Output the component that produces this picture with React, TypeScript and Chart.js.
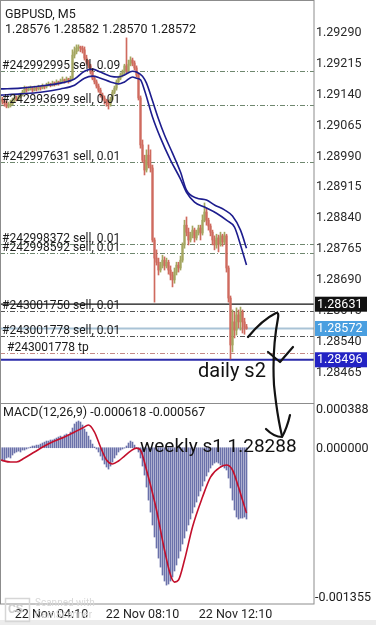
import React, { useEffect, useRef } from "react";
import { Chart, registerables } from "chart.js";
Chart.register(...registerables);

const SYMBOL_TITLE = "GBPUSD, M5";
const OHLC_TITLE = "1.28576 1.28582 1.28570 1.28572";
const MACD_TITLE = "MACD(12,26,9) -0.000618 -0.000567";

// [open, high, low, close] per M5 bar
const CANDLES: number[][] = [
  [1.29122,1.29137,1.29112,1.29129],[1.29129,1.29134,1.29117,1.29125],[1.29125,1.29129,1.29112,1.29120],
  [1.29120,1.29125,1.29108,1.29112],[1.29112,1.29122,1.29108,1.29115],[1.29115,1.29127,1.29110,1.29117],
  [1.29117,1.29132,1.29115,1.29127],[1.29127,1.29137,1.29122,1.29132],[1.29132,1.29137,1.29125,1.29129],
  [1.29129,1.29139,1.29127,1.29134],[1.29134,1.29144,1.29132,1.29139],[1.29139,1.29151,1.29137,1.29146],
  [1.29146,1.29161,1.29144,1.29154],[1.29154,1.29159,1.29146,1.29151],[1.29151,1.29159,1.29149,1.29154],
  [1.29154,1.29161,1.29151,1.29156],[1.29156,1.29159,1.29146,1.29151],[1.29151,1.29161,1.29149,1.29156],
  [1.29156,1.29159,1.29149,1.29154],[1.29154,1.29163,1.29151,1.29159],[1.29159,1.29161,1.29151,1.29156],
  [1.29156,1.29166,1.29154,1.29161],[1.29161,1.29163,1.29154,1.29159],[1.29159,1.29168,1.29156,1.29163],
  [1.29163,1.29171,1.29161,1.29166],[1.29166,1.29168,1.29159,1.29163],[1.29163,1.29173,1.29161,1.29168],
  [1.29168,1.29171,1.29161,1.29166],[1.29166,1.29176,1.29163,1.29171],[1.29171,1.29173,1.29163,1.29168],
  [1.29168,1.29178,1.29166,1.29173],[1.29173,1.29183,1.29171,1.29176],[1.29176,1.29178,1.29168,1.29173],
  [1.29173,1.29183,1.29171,1.29178],[1.29178,1.29180,1.29168,1.29176],[1.29176,1.29185,1.29171,1.29180],
  [1.29180,1.29249,1.29178,1.29236],[1.29236,1.29256,1.29229,1.29244],[1.29244,1.29261,1.29239,1.29253],
  [1.29253,1.29261,1.29246,1.29256],[1.29256,1.29258,1.29244,1.29253],[1.29253,1.29258,1.29241,1.29249],
  [1.29249,1.29256,1.29224,1.29229],[1.29229,1.29236,1.29214,1.29219],[1.29219,1.29224,1.29205,1.29210],
  [1.29210,1.29214,1.29190,1.29195],[1.29195,1.29200,1.29176,1.29180],[1.29180,1.29185,1.29166,1.29171],
  [1.29171,1.29176,1.29156,1.29161],[1.29161,1.29166,1.29146,1.29151],[1.29151,1.29156,1.29134,1.29139],
  [1.29139,1.29144,1.29127,1.29132],[1.29132,1.29137,1.29117,1.29125],[1.29125,1.29129,1.29112,1.29120],
  [1.29120,1.29127,1.29105,1.29117],[1.29117,1.29134,1.29112,1.29129],[1.29129,1.29151,1.29127,1.29146],
  [1.29146,1.29161,1.29142,1.29156],[1.29156,1.29176,1.29151,1.29171],[1.29171,1.29185,1.29166,1.29180],
  [1.29180,1.29193,1.29176,1.29188],[1.29188,1.29200,1.29183,1.29195],[1.29195,1.29214,1.29190,1.29210],
  [1.29210,1.29278,1.29193,1.29197],[1.29197,1.29224,1.29193,1.29214],[1.29214,1.29232,1.29210,1.29224],
  [1.29224,1.29229,1.29210,1.29217],[1.29217,1.29222,1.29200,1.29205],[1.29205,1.29210,1.29183,1.29188],
  [1.29188,1.29193,1.29127,1.29132],[1.29132,1.29137,1.29010,1.29018],[1.29018,1.29030,1.28976,1.28981],
  [1.28981,1.28993,1.28945,1.28957],[1.28957,1.29006,1.28952,1.28993],[1.28993,1.29018,1.28962,1.28969],
  [1.28969,1.29006,1.28952,1.28962],[1.28962,1.28969,1.28782,1.28787],[1.28787,1.28792,1.28636,1.28743],
  [1.28743,1.28763,1.28726,1.28733],[1.28733,1.28743,1.28702,1.28714],[1.28714,1.28733,1.28709,1.28726],
  [1.28726,1.28750,1.28719,1.28738],[1.28738,1.28746,1.28714,1.28724],[1.28724,1.28743,1.28719,1.28733],
  [1.28733,1.28738,1.28704,1.28714],[1.28714,1.28724,1.28690,1.28702],[1.28702,1.28709,1.28673,1.28690],
  [1.28690,1.28719,1.28682,1.28709],[1.28709,1.28733,1.28702,1.28726],[1.28726,1.28733,1.28709,1.28719],
  [1.28719,1.28748,1.28714,1.28738],[1.28738,1.28780,1.28733,1.28775],[1.28775,1.28835,1.28767,1.28823],
  [1.28823,1.28843,1.28797,1.28806],[1.28806,1.28816,1.28775,1.28787],[1.28787,1.28806,1.28782,1.28799],
  [1.28799,1.28821,1.28792,1.28811],[1.28811,1.28816,1.28782,1.28792],[1.28792,1.28811,1.28787,1.28806],
  [1.28806,1.28823,1.28799,1.28816],[1.28816,1.28823,1.28787,1.28804],[1.28804,1.28848,1.28799,1.28835],
  [1.28835,1.28877,1.28831,1.28855],[1.28855,1.28865,1.28823,1.28835],[1.28835,1.28840,1.28811,1.28821],
  [1.28821,1.28826,1.28797,1.28806],[1.28806,1.28811,1.28775,1.28787],[1.28787,1.28797,1.28763,1.28775],
  [1.28775,1.28801,1.28767,1.28792],[1.28792,1.28799,1.28758,1.28777],[1.28777,1.28806,1.28772,1.28797],
  [1.28797,1.28801,1.28772,1.28782],[1.28782,1.28806,1.28777,1.28797],[1.28797,1.28801,1.28709,1.28719],
  [1.28719,1.28724,1.28636,1.28646],[1.28646,1.28651,1.28498,1.28532],[1.28532,1.28617,1.28515,1.28588],
  [1.28588,1.28612,1.28549,1.28568],[1.28568,1.28622,1.28556,1.28605],[1.28605,1.28617,1.28573,1.28588],
  [1.28588,1.28624,1.28568,1.28612],[1.28612,1.28617,1.28561,1.28588],[1.28588,1.28597,1.28558,1.28575],
  [1.28576,1.28582,1.28570,1.28572],
];

// [bar index, value]
const MA_UPPER: number[][] = [
  [0,1.29154],[10,1.29156],[20,1.29161],[30,1.29168],[37,1.29178],[42,1.29197],[46,1.29202],
  [50,1.29195],[55,1.29185],[59,1.29183],[62,1.29188],[66,1.29197],[68,1.29195],[71,1.29185],
  [73,1.29168],[76,1.29125],[79,1.29081],[82,1.29042],[86,1.28998],[90,1.28952],[93,1.28908],
  [98,1.28889],[103,1.28884],[107,1.28872],[112,1.28860],[116,1.28845],[120,1.28811],[123,1.28767],
];
const MA_LOWER: number[][] = [
  [0,1.29139],[10,1.29142],[20,1.29146],[30,1.29154],[37,1.29163],[42,1.29180],[46,1.29185],
  [50,1.29180],[55,1.29171],[59,1.29166],[62,1.29171],[66,1.29183],[68,1.29180],[70,1.29176],
  [72,1.29151],[76,1.29086],[80,1.29035],[85,1.28981],[90,1.28935],[93,1.28903],[97,1.28879],
  [102,1.28867],[108,1.28852],[113,1.28835],[117,1.28818],[120,1.28775],[123,1.28726],
];

const PRICE_TICKS = [1.2929, 1.29215, 1.2914, 1.29065, 1.2899, 1.28915, 1.2884, 1.28765, 1.2869, 1.28615, 1.2854, 1.28465];

const ORDER_LABELS = [
  "#242992995 sell, 0.09", "#242993699 sell, 0.01", "#242997631 sell, 0.01", "#242998372 sell, 0.01",
  "#242998592 sell, 0.01", "#243001750 sell, 0.01", "#243001778 sell, 0.01", "#243001778 tp",
];
const ORDER_PRICES = [1.29197, 1.29115, 1.28976, 1.28777, 1.28755, 1.28614, 1.28554, 1.28512];

const LEVEL_LABELS = ["1.28631", "1.28572", "1.28496"];
const LEVEL_PRICES = [1.28631, 1.28572, 1.28496];

const MACD_HIST = [
  -0.000107,-0.000115,-0.000107,-0.000089,-0.000081,-0.000089,-0.000063,-0.000046,
  -0.000037,-0.000029,-0.000037,-0.000020,-0.000020,-0.000011,-0.000003,
  0.000006,0.000015,0.000015,0.000023,0.000023,0.000032,0.000041,
  0.000049,0.000058,0.000058,0.000067,0.000067,0.000075,0.000084,0.000093,
  0.000101,0.000093,0.000110,0.000119,0.000110,0.000136,0.000171,0.000206,
  0.000223,0.000232,0.000223,0.000197,0.000162,
  0.000136,0.000101,0.000067,0.000032,0.000006,-0.000011,
  -0.000037,-0.000072,-0.000107,-0.000141,-0.000167,-0.000185,-0.000159,
  -0.000124,-0.000089,-0.000063,-0.000037,-0.000020,-0.000011,-0.000003,
  0.000015,0.000041,0.000058,0.000049,0.000023,-0.000003,
  -0.000037,-0.000089,-0.000159,-0.000237,-0.000341,-0.000454,
  -0.000558,-0.000670,-0.000774,-0.000870,-0.000957,-0.001035,
  -0.001104,-0.001156,-0.001191,-0.001182,-0.001156,-0.001121,
  -0.001069,-0.001017,-0.000957,-0.000896,-0.000835,-0.000783,
  -0.000722,-0.000670,-0.000618,-0.000566,-0.000514,-0.000471,
  -0.000419,-0.000375,-0.000332,-0.000289,-0.000245,-0.000211,
  -0.000176,-0.000150,-0.000133,-0.000124,-0.000133,-0.000150,
  -0.000159,-0.000176,-0.000193,-0.000263,-0.000349,-0.000454,
  -0.000540,-0.000601,-0.000618,-0.000610,-0.000610,-0.000601,-0.000618,
];

const MACD_SIGNAL: number[][] = [
  [0,-0.000107],[5,-0.000124],[8,-0.000124],[12,-0.000089],[17,-0.000037],[22,0.000015],
  [27,0.000058],[32,0.000093],[37,0.000136],[41,0.000171],[44,0.000197],[47,0.000136],
  [50,0.000006],[53,-0.000107],[56,-0.000141],[59,-0.000115],[62,-0.000072],[65,-0.000029],
  [68,-0.000003],[70,-0.000020],[73,-0.000193],[78,-0.000540],[82,-0.000887],[85,-0.001104],
  [87,-0.001165],[89,-0.001147],[92,-0.000974],[96,-0.000687],[101,-0.000428],[105,-0.000254],
  [110,-0.000167],[113,-0.000150],[116,-0.000193],[119,-0.000341],[121,-0.000454],[123,-0.000567],
];
const MACD_TICK_LABELS = ["0.000388", "0.000000", "-0.001355"];
const MACD_TICKS = [0.000388, 0, -0.001355];

const TIME_TICK_POS = [25.5, 71, 117.5];
const TIME_LABELS = ["22 Nov 04:10", "22 Nov 08:10", "22 Nov 12:10"];

const NOTES = ["daily s2", "weekly s1 1.28288"];

const FONT = "Roboto, 'Noto Sans', sans-serif";
const BULL = "#a3a660";
const BEAR = "#cf6a5e";
const FRAME = "#8c8c8c";
const X_MIN = -0.25;
const X_MAX = 156.75;

function drawInk(ctx: CanvasRenderingContext2D, offY: number) {
  ctx.save();
  ctx.translate(0, -offY);
  ctx.strokeStyle = "#121212";
  ctx.lineWidth = 2.2;
  ctx.lineCap = "round";
  ctx.lineJoin = "round";
  ctx.beginPath();
  ctx.moveTo(248, 337);
  ctx.quadraticCurveTo(262, 320, 276, 313);
  ctx.quadraticCurveTo(279, 312, 278, 318);
  ctx.quadraticCurveTo(272, 350, 274, 385);
  ctx.quadraticCurveTo(277, 415, 282, 436);
  ctx.stroke();
  ctx.beginPath();
  ctx.moveTo(268, 352);
  ctx.lineTo(280, 362);
  ctx.lineTo(293, 347);
  ctx.stroke();
  ctx.beginPath();
  ctx.moveTo(266, 429);
  ctx.quadraticCurveTo(274, 437, 282, 437);
  ctx.quadraticCurveTo(287, 428, 290, 415);
  ctx.stroke();
  ctx.fillStyle = "#111";
  ctx.font = `20px ${FONT}`;
  ctx.textBaseline = "alphabetic";
  ctx.textAlign = "left";
  ctx.fillText(NOTES[0], 198, 377);
  ctx.font = `19px ${FONT}`;
  ctx.fillText(NOTES[1], 140, 452);
  ctx.restore();
}

export default function App() {
  const priceRef = useRef<HTMLCanvasElement>(null);
  const macdRef = useRef<HTMLCanvasElement>(null);

  useEffect(() => {
    const candleColor = (ctx: any) => {
      const c = CANDLES[ctx.dataIndex];
      return c && c[3] >= c[0] ? BULL : BEAR;
    };

    const pricePlugin = {
      id: "pricePlugin",
      beforeDatasetsDraw(chart: any) {
        const { ctx, chartArea: a, scales } = chart;
        const y = scales.y;
        ctx.save();
        ORDER_PRICES.forEach((p, i) => {
          const py = Math.round(y.getPixelForValue(p)) + 0.5;
          ctx.strokeStyle = i === ORDER_PRICES.length - 1 ? "#c48a86" : i >= 5 ? "#555" : "#6f876f";
          ctx.lineWidth = 1;
          ctx.setLineDash([5, 2, 1, 2]);
          ctx.beginPath();
          ctx.moveTo(a.left, py);
          ctx.lineTo(a.right, py);
          ctx.stroke();
        });
        ctx.setLineDash([]);
        const lc = ["#111", "#a9c3d6", "#2b2baa"];
        const lw = [1.3, 1.8, 2];
        LEVEL_PRICES.forEach((p, i) => {
          const py = y.getPixelForValue(p);
          ctx.strokeStyle = lc[i];
          ctx.lineWidth = lw[i];
          ctx.beginPath();
          ctx.moveTo(a.left, py);
          ctx.lineTo(a.right, py);
          ctx.stroke();
        });
        ctx.restore();
      },
      afterDraw(chart: any) {
        const { ctx, chartArea: a, scales } = chart;
        const y = scales.y;
        ctx.save();
        ctx.strokeStyle = FRAME;
        ctx.lineWidth = 1;
        ctx.strokeRect(0.5, 0.5, a.right - 0.5, a.bottom);
        ctx.fillStyle = "#1a1a1a";
        ctx.font = `12.5px ${FONT}`;
        ctx.textAlign = "left";
        ctx.textBaseline = "alphabetic";
        ctx.fillText(SYMBOL_TITLE, 5, 17.5);
        ctx.fillText(OHLC_TITLE, 5, 33);
        ctx.font = `12px ${FONT}`;
        ORDER_LABELS.forEach((t, i) => {
          const py = y.getPixelForValue(ORDER_PRICES[i]);
          ctx.fillText(t, i === ORDER_LABELS.length - 1 ? 7 : 2, py - 2);
        });
        const bg = ["#111111", "#4a9fe0", "#2323c4"];
        ctx.font = `12.5px ${FONT}`;
        ctx.textBaseline = "middle";
        LEVEL_PRICES.forEach((p, i) => {
          const py = y.getPixelForValue(p);
          ctx.fillStyle = bg[i];
          ctx.fillRect(a.right + 1, py - 7.5, 52, 15);
          ctx.fillStyle = "#fff";
          ctx.fillText(LEVEL_LABELS[i], a.right + 3, py + 0.5);
        });
        ctx.restore();
        drawInk(ctx, 0);
      },
    };

    const price = new Chart(priceRef.current!, {
      type: "bar",
      data: {
        datasets: [
          {
            type: "line",
            data: MA_UPPER.map((p) => ({ x: p[0], y: p[1] })),
            borderColor: "#1d1d8e",
            borderWidth: 1.6,
            pointRadius: 0,
            cubicInterpolationMode: "monotone",
            order: 0,
          } as any,
          {
            type: "line",
            data: MA_LOWER.map((p) => ({ x: p[0], y: p[1] })),
            borderColor: "#1d1d8e",
            borderWidth: 1.6,
            pointRadius: 0,
            cubicInterpolationMode: "monotone",
            order: 0,
          } as any,
          {
            type: "bar",
            data: CANDLES.map((c, i) => ({ x: i, y: [c[0], c[3]] })),
            backgroundColor: candleColor,
            barThickness: 1.5,
            minBarLength: 1,
            grouped: false,
            order: 1,
          } as any,
          {
            type: "bar",
            data: CANDLES.map((c, i) => ({ x: i, y: [c[2], c[1]] })),
            backgroundColor: candleColor,
            barThickness: 1,
            grouped: false,
            order: 2,
          } as any,
        ],
      },
      options: {
        animation: false,
        responsive: false,
        maintainAspectRatio: false,
        layout: { padding: 0 },
        plugins: { legend: { display: false }, tooltip: { enabled: false } },
        scales: {
          x: { type: "linear", min: X_MIN, max: X_MAX, offset: false, bounds: "ticks", display: false, grid: { offset: false } },
          y: {
            position: "right",
            min: 1.28391,
            max: 1.2937,
            grid: { display: false, drawTicks: false },
            border: { display: false },
            afterBuildTicks: (s: any) => {
              s.ticks = PRICE_TICKS.map((v) => ({ value: v }));
            },
            afterFit: (s: any) => {
              s.width = 62;
              s.paddingTop = 0;
              s.paddingBottom = 0;
            },
            ticks: {
              padding: 2,
              color: "#2a2a2a",
              font: { family: FONT, size: 12.5 },
              callback: (v: any) => Number(v).toFixed(5),
            },
          },
        },
      } as any,
      plugins: [pricePlugin],
    });

    const macdPlugin = {
      id: "macdPlugin",
      beforeDraw(chart: any) {
        const { ctx, width, height } = chart;
        ctx.save();
        ctx.fillStyle = "#ececec";
        ctx.fillRect(0, height - 5, width, 5);
        ctx.restore();
      },
      afterDraw(chart: any) {
        const { ctx, chartArea: a, scales } = chart;
        const y = scales.y;
        ctx.save();
        ctx.strokeStyle = FRAME;
        ctx.lineWidth = 1;
        ctx.strokeRect(0.5, 0.5, a.right - 0.5, a.bottom - 0.5);
        ctx.fillStyle = "#1a1a1a";
        ctx.font = `12.5px ${FONT}`;
        ctx.textAlign = "left";
        ctx.textBaseline = "alphabetic";
        ctx.fillText(MACD_TITLE, 3, 13);
        ctx.textBaseline = "middle";
        MACD_TICKS.forEach((v, i) => {
          let py = y.getPixelForValue(v);
          if (i === 0) py += 7;
          else if (i === MACD_TICKS.length - 1) py -= 6;
          else py += 1;
          ctx.fillText(MACD_TICK_LABELS[i], i === MACD_TICKS.length - 1 ? a.right + 1 : a.right + 2, py);
        });
        // faint scanner watermark
        ctx.strokeStyle = "#d6d6d6";
        ctx.lineWidth = 1.5;
        ctx.strokeRect(5.5, 195.5, 24, 23);
        ctx.fillStyle = "#cfcfcf";
        ctx.font = `bold 12px ${FONT}`;
        ctx.fillText("CS", 8, 207);
        ctx.font = `10px ${FONT}`;
        ctx.fillStyle = "#d8d8d8";
        ctx.fillText("Scanned with", 35, 200);
        ctx.fillText("CamScanner", 35, 212);
        ctx.restore();
        drawInk(ctx, 403);
      },
    };

    const macd = new Chart(macdRef.current!, {
      type: "bar",
      data: {
        datasets: [
          {
            type: "line",
            data: MACD_SIGNAL.map((p) => ({ x: p[0], y: p[1] })),
            borderColor: "#c3102c",
            borderWidth: 1.6,
            pointRadius: 0,
            cubicInterpolationMode: "monotone",
            order: 0,
          } as any,
          {
            type: "bar",
            data: MACD_HIST.map((v, i) => ({ x: i, y: v })),
            backgroundColor: "#6a71aa",
            barThickness: 1,
            grouped: false,
            order: 1,
          } as any,
        ],
      },
      options: {
        animation: false,
        responsive: false,
        maintainAspectRatio: false,
        layout: { padding: { left: 0, top: 0, bottom: 0, right: 62 } },
        plugins: { legend: { display: false }, tooltip: { enabled: false } },
        scales: {
          x: {
            type: "linear",
            min: X_MIN,
            max: X_MAX,
            offset: false,
            bounds: "ticks",
            grid: { display: false, drawTicks: false, offset: false },
            border: { display: false },
            afterBuildTicks: (s: any) => {
              s.ticks = TIME_TICK_POS.map((v) => ({ value: v }));
            },
            afterFit: (s: any) => {
              s.height = 21;
              s.paddingLeft = 0;
              s.paddingRight = 0;
            },
            ticks: {
              autoSkip: false,
              maxRotation: 0,
              padding: 3,
              color: "#1f1f1f",
              font: { family: FONT, size: 12.5 },
              callback: (_v: any, idx: number) => TIME_LABELS[idx],
            },
          },
          y: { display: false, min: -0.001355, max: 0.000388 },
        },
      } as any,
      plugins: [macdPlugin],
    });

    return () => {
      price.destroy();
      macd.destroy();
    };
  }, []);

  return (
    <div style={{ position: "absolute", left: 0, top: 0, width: 376, height: 625, background: "#fff", overflow: "hidden" }}>
      <canvas ref={priceRef} width={376} height={403} style={{ position: "absolute", left: 0, top: 0, display: "block" }} />
      <canvas ref={macdRef} width={376} height={222} style={{ position: "absolute", left: 0, top: 403, display: "block" }} />
    </div>
  );
}
